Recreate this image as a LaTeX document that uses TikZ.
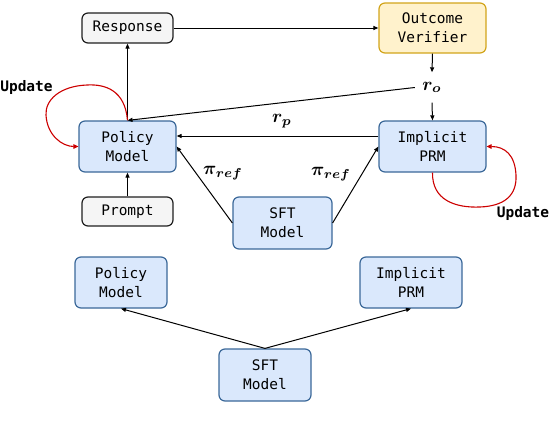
\documentclass[tikz,border=0pt]{standalone}
\usepackage{fix-cm}
\usepackage{fontspec}
\setmonofont{DejaVu Sans Mono}
\usepackage{amsmath}
\usepackage{graphicx}
\usetikzlibrary{arrows.meta}
\definecolor{bfill}{HTML}{DAE8FC}
\definecolor{bline}{HTML}{3B6899}
\definecolor{yfill}{HTML}{FFF2CC}
\definecolor{yline}{HTML}{D2A41A}
\definecolor{gfill}{HTML}{F5F5F5}
\definecolor{gline}{HTML}{1F1F1F}
\definecolor{loopred}{HTML}{CC0000}
\newcommand{\mylbl}[1]{\scalebox{1.85}{\boldmath$#1$}}
\begin{document}
\begin{tikzpicture}[x=1pt,y=-1pt,
  box/.style={draw, rounded corners=6pt, line width=1.2pt, align=center, inner sep=0pt,
    font=\fontsize{14.5}{19}\selectfont\ttfamily},
  bluebox/.style={box, fill=bfill, draw=bline},
  yellowbox/.style={box, fill=yfill, draw=yline},
  graybox/.style={box, fill=gfill, draw=gline},
  arr/.style={-{Triangle[length=5pt,width=4pt]}, line width=1pt, black},
  redloop/.style={-{Triangle[length=5pt,width=4.5pt]}, line width=1.1pt, loopred},
  mathlbl/.style={inner sep=0pt},
  updlbl/.style={inner sep=0pt, font=\fontsize{14.5}{18}\selectfont\ttfamily\bfseries}
]
\useasboundingbox (0,0) rectangle (550,434);

% top diagram
\node[graybox, minimum width=91pt, minimum height=30pt] (resp) at (127.5,28) {Response};
\node[bluebox, minimum width=97pt, minimum height=51pt] (pol) at (127.5,146.5) {Policy\\Model};
\node[graybox, minimum width=91pt, minimum height=29pt] (prompt) at (127.5,211.5) {Prompt};
\node[yellowbox, minimum width=107pt, minimum height=50pt] (ov) at (432.5,28) {Outcome\\Verifier};
\node[bluebox, minimum width=107pt, minimum height=51pt] (prm) at (432.5,146.5) {Implicit\\PRM};
\node[bluebox, minimum width=99pt, minimum height=52pt] (sft) at (282.5,223) {SFT\\Model};
\node[mathlbl, minimum width=34pt, minimum height=30pt] (ro) at (432,87.5) {\mylbl{r_o}};
\node[mathlbl] (rp) at (282,121) {\mylbl{r_p}};
\node[mathlbl] (piL) at (223,173) {\mylbl{\pi_{ref}}};
\node[mathlbl] (piR) at (331,174) {\mylbl{\pi_{ref}}};
\node[updlbl] (updL) at (26.5,87) {Update};
\node[updlbl] (updR) at (523,213) {Update};

\draw[arr] (pol.north) -- (resp.south);
\draw[arr] (prompt.north) -- (pol.south);
\draw[arr] (resp.east) -- (ov.west);
\draw[arr] (ov.south) -- (ro.north);
\draw[arr] (ro.south) -- (prm.north);
\draw[arr] (ro.west) -- (pol.north);
\draw[arr] ([yshift=10.5pt]prm.west) -- ([yshift=10.5pt]pol.east);
\draw[arr] (sft.west) -- (pol.east);
\draw[arr] (sft.east) -- (prm.west);

\draw[redloop] (pol.north) .. controls (125,90) and (105,84) .. (87,85)
  .. controls (60,86) and (45,100) .. (46,115)
  .. controls (47,135) and (62,146.5) .. (pol.west);
\draw[redloop] (prm.south) .. controls (432,200) and (455,208) .. (480,207)
  .. controls (505,206) and (517,195) .. (516,175)
  .. controls (515,155) and (505,146.5) .. (prm.east);

% bottom diagram
\node[bluebox, minimum width=92pt, minimum height=51pt] (pol2) at (121,282.5) {Policy\\Model};
\node[bluebox, minimum width=102pt, minimum height=51pt] (prm2) at (411,282.5) {Implicit\\PRM};
\node[bluebox, minimum width=92pt, minimum height=52pt] (sft2) at (265,375) {SFT\\Model};
\draw[arr] (sft2.north) -- (pol2.south);
\draw[arr] (sft2.north) -- (prm2.south);
\end{tikzpicture}
\end{document}
